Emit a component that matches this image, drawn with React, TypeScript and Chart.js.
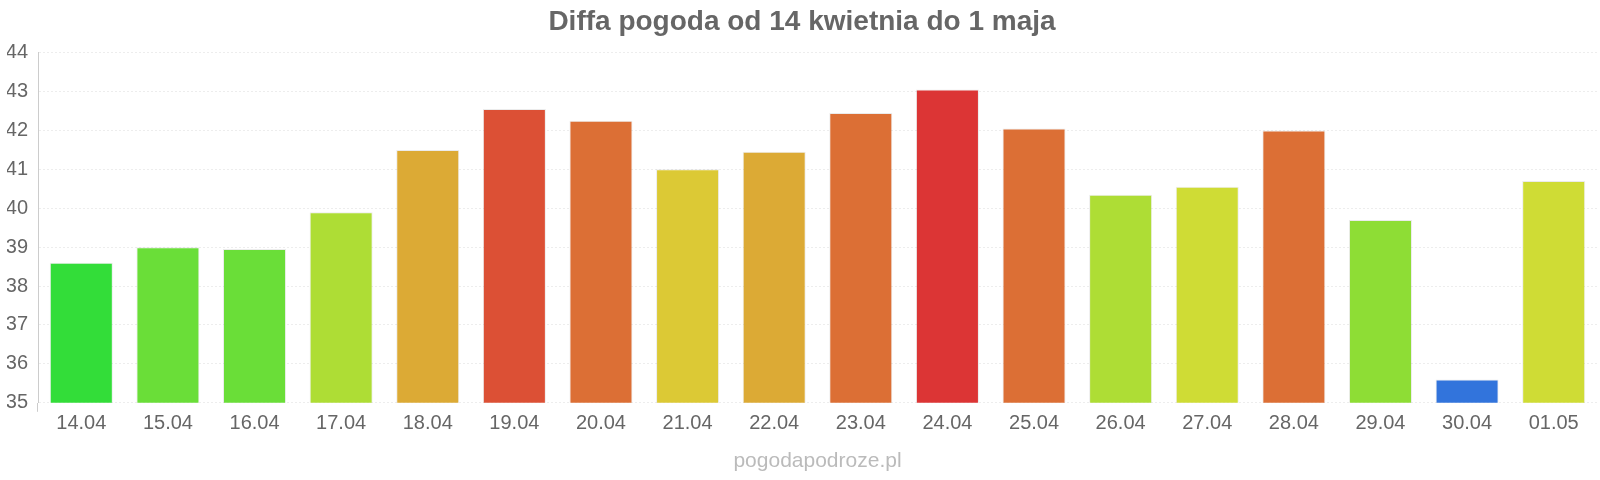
import React, { useEffect, useRef } from "react";
import { Chart, registerables } from "chart.js";

Chart.register(...registerables);

const categories = ["14.04", "15.04", "16.04", "17.04", "18.04", "19.04", "20.04", "21.04", "22.04", "23.04", "24.04", "25.04", "26.04", "27.04", "28.04", "29.04", "30.04", "01.05"];
const values = [38.6, 39.0, 38.95, 39.9, 41.5, 42.55, 42.25, 41.0, 41.45, 42.45, 43.05, 42.05, 40.35, 40.55, 42.0, 39.7, 35.6, 40.7];
const barColors = ["#33dd39", "#6ade38", "#6ade38", "#aedd35", "#dcaa35", "#dc5035", "#dc6f35", "#dcc935", "#dcaa35", "#dc6f35", "#dc3535", "#dc6f35", "#aedd35", "#cfdc35", "#dc6f35", "#8edd35", "#3274dc", "#cfdc35"];
const titleText = "Diffa pogoda od 14 kwietnia do 1 maja";
const footerText = "pogodapodroze.pl";
const yMin = 35;
const yMax = 44;

const FONT = "'Liberation Sans', Arial, Helvetica, sans-serif";

export default function App() {
  const ref = useRef<HTMLCanvasElement | null>(null);
  useEffect(() => {
    if (!ref.current) return;
    const chart = new Chart(ref.current, {
      type: "bar",
      data: {
        labels: categories,
        datasets: [
          {
            data: values,
            backgroundColor: barColors,
            borderColor: "rgba(0,0,0,0.08)",
            borderWidth: 1,
            barPercentage: 0.91,
            categoryPercentage: 0.8,
          },
        ],
      },
      options: {
        animation: false,
        responsive: true,
        maintainAspectRatio: false,
        layout: { padding: { left: 7, right: 3, top: 2, bottom: 4 } },
        plugins: {
          legend: { display: false },
          tooltip: { enabled: false },
          title: {
            display: true,
            text: titleText,
            color: "#666",
            font: { family: FONT, size: 28, weight: "bold" },
            padding: { top: 3, bottom: 14 },
          },
        },
        scales: {
          x: {
            grid: {
              display: true,
              drawOnChartArea: false,
              drawTicks: true,
              tickLength: 9,
              color: (ctx: any) => (ctx.index === 0 ? "#cccccc" : "rgba(0,0,0,0)"),
            },
            border: { display: false },
            ticks: {
              color: "#666",
              font: { family: FONT, size: 20 },
              padding: 0,
              maxRotation: 0,
            },
            title: {
              display: true,
              text: footerText,
              color: "#bbb",
              font: { family: FONT, size: 21, weight: "normal" },
              padding: { top: 13, bottom: 2 },
            },
          },
          y: {
            min: yMin,
            max: yMax,
            afterFit: (scale: any) => {
              scale.width = 31;
            },
            grid: {
              color: "rgba(0,0,0,0.07)",
              drawTicks: false,
            },
            border: { display: true, color: "#cccccc", dash: [2, 2] },
            ticks: {
              stepSize: 1,
              color: "#666",
              font: { family: FONT, size: 20 },
              padding: 10,
            },
          },
        },
      },
    });
    return () => chart.destroy();
  }, []);
  return (
    <div style={{ position: "absolute", left: 0, top: 0, width: 1600, height: 480 }}>
      <canvas ref={ref} />
    </div>
  );
}
